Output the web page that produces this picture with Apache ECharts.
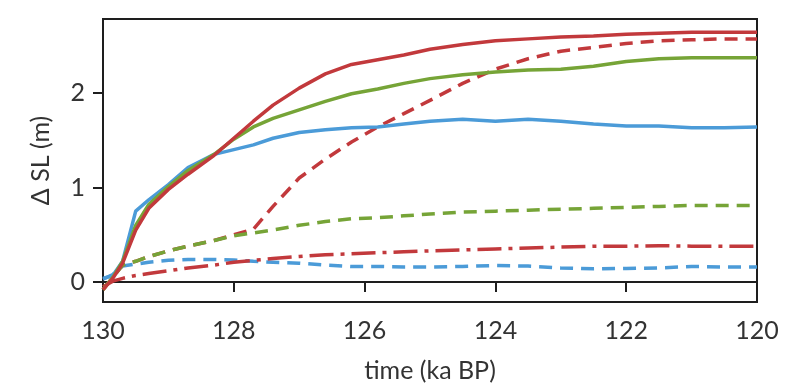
<!DOCTYPE html>
<html>
<head>
<meta charset="utf-8">
<script src="https://cdn.jsdelivr.net/npm/echarts@6/dist/echarts.min.js"></script>
<style>
  html, body { margin: 0; padding: 0; background: #fff; }
  #chart { width: 808px; height: 390px; }
</style>
</head>
<body>
<div id="chart"></div>
<script>
// Sample times (ka BP), shared by all curves
const timeKa = [130, 129.85, 129.7, 129.5, 129.3, 129, 128.7, 128.3, 128, 127.7, 127.4, 127,
  126.6, 126.2, 125.8, 125.4, 125, 124.5, 124, 123.5, 123, 122.5, 122, 121.5, 121, 120.5, 120];

// Sea-level change (m) for each experiment
const redSolid = [-0.08, 0.04, 0.2, 0.55, 0.78, 0.98, 1.14, 1.34, 1.52, 1.70, 1.87, 2.05,
  2.20, 2.30, 2.35, 2.40, 2.46, 2.51, 2.55, 2.57, 2.59, 2.60, 2.62, 2.63, 2.64, 2.64, 2.64];
const greenSolid = [-0.08, 0.05, 0.22, 0.60, 0.82, 1.01, 1.18, 1.35, 1.51, 1.64, 1.73, 1.82,
  1.91, 1.99, 2.04, 2.10, 2.15, 2.19, 2.22, 2.24, 2.25, 2.28, 2.33, 2.36, 2.37, 2.37, 2.37];
const blueSolid = [0.04, 0.07, 0.22, 0.75, 0.87, 1.03, 1.21, 1.35, 1.40, 1.45, 1.52, 1.58,
  1.61, 1.63, 1.64, 1.67, 1.70, 1.72, 1.70, 1.72, 1.70, 1.67, 1.65, 1.65, 1.63, 1.63, 1.64];
const redDashed = [-0.08, 0.05, 0.18, 0.22, 0.27, 0.33, 0.38, 0.44, 0.50, 0.56, 0.80, 1.10,
  1.30, 1.48, 1.64, 1.78, 1.92, 2.10, 2.25, 2.36, 2.44, 2.48, 2.52, 2.55, 2.56, 2.57, 2.57];
const greenDashed = [-0.08, 0.05, 0.18, 0.22, 0.27, 0.33, 0.38, 0.44, 0.49, 0.52, 0.55, 0.60,
  0.64, 0.67, 0.68, 0.70, 0.72, 0.74, 0.75, 0.76, 0.77, 0.78, 0.79, 0.80, 0.81, 0.81, 0.81];
const redDashDot = [-0.05, 0.01, 0.04, 0.07, 0.09, 0.12, 0.15, 0.18, 0.21, 0.23, 0.25, 0.27,
  0.29, 0.30, 0.31, 0.32, 0.33, 0.34, 0.35, 0.36, 0.37, 0.38, 0.38, 0.385, 0.38, 0.38, 0.38];
const blueDashed = [0.03, 0.08, 0.17, 0.19, 0.21, 0.23, 0.24, 0.24, 0.235, 0.22, 0.21, 0.20,
  0.18, 0.165, 0.165, 0.16, 0.16, 0.165, 0.175, 0.17, 0.15, 0.14, 0.145, 0.15, 0.165, 0.16, 0.16];

// Axis ticks
const xTicks = { min: 120, max: 130, step: 2 };
const yTickValues = [0, 1, 2];

const RED = '#c2393c';
const GREEN = '#76a437';
const BLUE = '#4b9bd8';
const FONT = 'Lato';

function pairs(values) {
  return timeKa.map((t, i) => [t, values[i]]);
}

function line(name, values, color, dash) {
  return {
    name: name,
    type: 'line',
    data: pairs(values),
    showSymbol: false,
    symbol: 'none',
    silent: true,
    animation: false,
    lineStyle: { color: color, width: 3.5, type: dash, cap: 'butt', join: 'round' }
  };
}

const chart = echarts.init(document.getElementById('chart'), null, { renderer: 'canvas' });
chart.setOption({
  backgroundColor: '#ffffff',
  animation: false,
  grid: {
    left: 103, right: 51, top: 19, bottom: 88,
    show: true, borderColor: '#1e1e1e', borderWidth: 2, backgroundColor: 'transparent'
  },
  xAxis: {
    type: 'value',
    inverse: true,
    min: xTicks.min,
    max: xTicks.max,
    interval: xTicks.step,
    name: 'time (ka BP)',
    nameLocation: 'middle',
    nameGap: 56,
    nameTextStyle: { fontFamily: FONT, fontSize: 25, color: '#333' },
    axisLine: { show: true, lineStyle: { color: '#1e1e1e', width: 2 } },
    axisTick: { show: true, inside: false, length: 10, lineStyle: { color: '#1e1e1e', width: 2 } },
    axisLabel: { fontFamily: FONT, fontSize: 25, color: '#333', margin: 16, showMinLabel: true, showMaxLabel: true },
    splitLine: { show: false }
  },
  yAxis: {
    type: 'value',
    min: -0.21,
    max: 2.78,
    name: 'Δ SL (m)',
    nameLocation: 'middle',
    nameGap: 50,
    nameRotate: 90,
    nameTextStyle: { fontFamily: FONT, fontSize: 25, color: '#333' },
    axisLine: { show: true, lineStyle: { color: '#1e1e1e', width: 2 } },
    axisTick: { show: true, inside: false, length: 10, customValues: yTickValues, lineStyle: { color: '#1e1e1e', width: 2 } },
    axisLabel: { fontFamily: FONT, fontSize: 25, color: '#333', margin: 18, customValues: yTickValues },
    splitLine: { show: false }
  },
  series: [
    line('blue dashed', blueDashed, BLUE, [13, 8]),
    line('red dash-dot', redDashDot, RED, [24, 7, 4, 7]),
    line('red dashed', redDashed, RED, [13, 8]),
    line('green dashed', greenDashed, GREEN, [13, 8]),
    line('blue solid', blueSolid, BLUE, 'solid'),
    line('green solid', greenSolid, GREEN, 'solid'),
    line('red solid', redSolid, RED, 'solid')
  ]
});
</script>
</body>
</html>
